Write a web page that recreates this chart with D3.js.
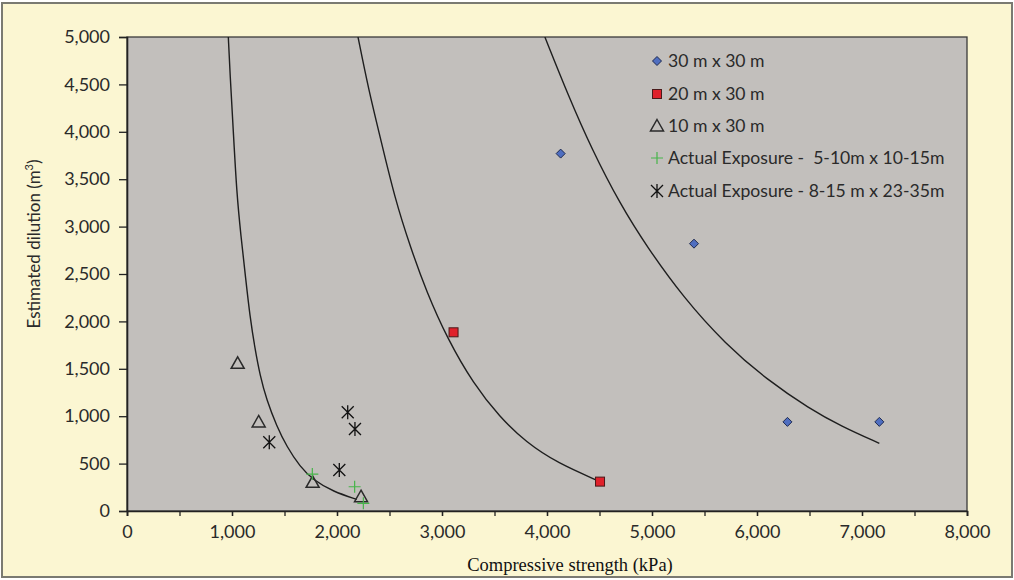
<!DOCTYPE html>
<html>
<head>
<meta charset="utf-8">
<script src="https://cdn.jsdelivr.net/npm/d3@7"></script>
<style>
  html, body { margin: 0; padding: 0; background: #ffffff; }
  svg { display: block; }
</style>
</head>
<body>
<script>
// ---------- data ----------
const xTicks = [0, 1000, 2000, 3000, 4000, 5000, 6000, 7000, 8000];
const xMinorTicks = [0, 500, 1000, 1500, 2000, 2500, 3000, 3500, 4000, 4500, 5000, 5500, 6000, 6500, 7000, 7500, 8000];
const yTicks = [0, 500, 1000, 1500, 2000, 2500, 3000, 3500, 4000, 4500, 5000];

const seriesNames = [
  "30 m x 30 m",
  "20 m x 30 m",
  "10 m x 30 m",
  "Actual Exposure -  5-10m x 10-15m",
  "Actual Exposure - 8-15 m x 23-35m"
];

const pts30x30 = [[4130, 3770], [5400, 2820], [6290, 940], [7165, 940]];
const pts20x30 = [[3110, 1885], [4505, 310]];
const pts10x30 = [[1054, 1558], [1254, 939], [1768, 303], [2229, 151]];
const ptsActualSmall = [[1765, 390], [2168, 256], [2251, 81]];
const ptsActualLarge = [[1355, 725], [2102, 1041], [2171, 865], [2022, 432]];

// trend curves
const curve10x30 = [[965, 5000], [981, 4617], [1012, 4019], [1045, 3351], [1085, 2900], [1130, 2455],
  [1171, 2050], [1219, 1710], [1267, 1430], [1330, 1170], [1426, 895], [1521, 680], [1648, 467],
  [1774, 327], [1965, 204], [2188, 123]];
const curve20x30 = [[2200, 5000], [2300, 4450], [2410, 3950], [2550, 3300], [2700, 2780], [2850, 2320],
  [3050, 1820], [3300, 1340], [3550, 990], [3800, 725], [4100, 505], [4505, 310]];
const curve30x30 = [[3980, 5000], [4200, 4390], [4425, 3820], [4700, 3230], [4950, 2790], [5300, 2250],
  [5700, 1760], [6100, 1380], [6500, 1080], [6800, 895], [7165, 714]];

// ---------- layout ----------
const W = 1014, H = 580;
const plot = { left: 127, top: 37, right: 967, bottom: 511 };

const svg = d3.select("body").append("svg").attr("width", W).attr("height", H);

// outer chart background + border
svg.append("rect").attr("x", 0).attr("y", 0).attr("width", W).attr("height", H).attr("fill", "#ffffff");
svg.append("rect").attr("x", 2).attr("y", 3).attr("width", W - 4).attr("height", H - 6)
  .attr("fill", "#FBF6D2").attr("stroke", "#7a7a72").attr("stroke-width", 2);

const x = d3.scaleLinear().domain([0, 8000]).range([plot.left, plot.right]);
const y = d3.scaleLinear().domain([0, 5000]).range([plot.bottom, plot.top]);

// plot area
svg.append("rect").attr("x", plot.left).attr("y", plot.top)
  .attr("width", plot.right - plot.left).attr("height", plot.bottom - plot.top)
  .attr("fill", "#C2BFBC").attr("stroke", "#3a3a3a").attr("stroke-width", 1.3);

const fmt = d3.format(",");
const tickFont = "Lato, 'Open Sans', sans-serif";

// y axis
const yAxis = svg.append("g").attr("transform", `translate(${plot.left},0)`)
  .call(d3.axisLeft(y).tickValues(yTicks).tickFormat(fmt).tickSize(8).tickPadding(9));
yAxis.select(".domain").attr("stroke", "#222").attr("stroke-width", 1.6);
yAxis.selectAll(".tick line").attr("stroke", "#222").attr("stroke-width", 1.3);
yAxis.selectAll("text").attr("font-family", tickFont).attr("font-size", 18).attr("fill", "#2a2a2a");

// x axis: minor ticks (every 500) then labelled ticks
const xAxisMinor = svg.append("g").attr("transform", `translate(0,${plot.bottom})`)
  .call(d3.axisBottom(x).tickValues(xMinorTicks).tickFormat("").tickSize(5));
xAxisMinor.select(".domain").attr("stroke", "#222").attr("stroke-width", 1.6);
xAxisMinor.selectAll(".tick line").attr("stroke", "#222").attr("stroke-width", 1.3);

const xAxis = svg.append("g").attr("transform", `translate(0,${plot.bottom})`)
  .call(d3.axisBottom(x).tickValues(xTicks).tickFormat(fmt).tickSize(5).tickPadding(9));
xAxis.select(".domain").remove();
xAxis.selectAll(".tick line").attr("stroke", "#222").attr("stroke-width", 1.3);
xAxis.selectAll("text").attr("font-family", tickFont).attr("font-size", 18).attr("fill", "#2a2a2a");

// axis titles
svg.append("text").attr("x", 570).attr("y", 571).attr("text-anchor", "middle")
  .attr("font-family", "'Liberation Serif', 'DejaVu Serif', serif").attr("font-size", 18.5)
  .attr("fill", "#111").text("Compressive strength (kPa)");

const yTitle = svg.append("text").attr("transform", `translate(40,244) rotate(-90)`)
  .attr("text-anchor", "middle").attr("font-family", tickFont).attr("font-size", 17).attr("fill", "#2a2a2a");
yTitle.append("tspan").text("Estimated dilution (m");
yTitle.append("tspan").attr("font-size", 11).attr("dy", -7).text("3");
yTitle.append("tspan").attr("dy", 7).text(")");

// curves
const line = d3.line().x(d => x(d[0])).y(d => y(d[1])).curve(d3.curveBasis);
svg.append("clipPath").attr("id", "clip").append("rect")
  .attr("x", plot.left).attr("y", plot.top).attr("width", plot.right - plot.left).attr("height", plot.bottom - plot.top);
const curves = svg.append("g").attr("clip-path", "url(#clip)");
[curve10x30, curve20x30, curve30x30].forEach(c => {
  curves.append("path").datum(c).attr("d", line).attr("fill", "none")
    .attr("stroke", "#1e1e1e").attr("stroke-width", 1.4);
});

// marker drawers
function diamond(g, cx, cy) {
  g.append("path").attr("d", `M${cx},${cy - 4.5}L${cx + 4.5},${cy}L${cx},${cy + 4.5}L${cx - 4.5},${cy}Z`)
    .attr("fill", "#4F6EC0").attr("stroke", "#1e2a50").attr("stroke-width", 1);
}
function square(g, cx, cy) {
  g.append("rect").attr("x", cx - 4.5).attr("y", cy - 4.5).attr("width", 9).attr("height", 9)
    .attr("fill", "#E0212B").attr("stroke", "#4a1a1a").attr("stroke-width", 1);
}
function triangle(g, cx, cy) {
  g.append("path").attr("d", `M${cx},${cy - 6.5}L${cx + 6.5},${cy + 5}L${cx - 6.5},${cy + 5}Z`)
    .attr("fill", "none").attr("stroke", "#2a2a2a").attr("stroke-width", 1.5);
}
function plus(g, cx, cy) {
  g.append("path").attr("d", `M${cx - 6},${cy}H${cx + 6}M${cx},${cy - 6}V${cy + 6}`)
    .attr("fill", "none").attr("stroke", "#47B54A").attr("stroke-width", 1.2);
}
function asterisk(g, cx, cy) {
  g.append("path").attr("d", `M${cx - 6},${cy - 6}L${cx + 6},${cy + 6}M${cx + 6},${cy - 6}L${cx - 6},${cy + 6}M${cx},${cy - 7}V${cy + 7}`)
    .attr("fill", "none").attr("stroke", "#111").attr("stroke-width", 1.3);
}

const marks = svg.append("g");
pts10x30.forEach(d => triangle(marks, x(d[0]), y(d[1])));
ptsActualLarge.forEach(d => asterisk(marks, x(d[0]), y(d[1])));
ptsActualSmall.forEach(d => plus(marks, x(d[0]), y(d[1])));
pts20x30.forEach(d => square(marks, x(d[0]), y(d[1])));
pts30x30.forEach(d => diamond(marks, x(d[0]), y(d[1])));

// legend
const legendDrawers = [diamond, square, triangle, plus, asterisk];
const legendRowsY = [61, 94, 126, 158, 191];
const legend = svg.append("g");
seriesNames.forEach((name, i) => {
  legendDrawers[i](legend, 657, legendRowsY[i]);
  legend.append("text").attr("x", 668).attr("y", legendRowsY[i]).attr("dy", "0.35em")
    .attr("font-family", tickFont).attr("font-size", 17.6).attr("fill", "#2a2a2a")
    .style("white-space", "pre").text(name);
});
</script>
</body>
</html>
